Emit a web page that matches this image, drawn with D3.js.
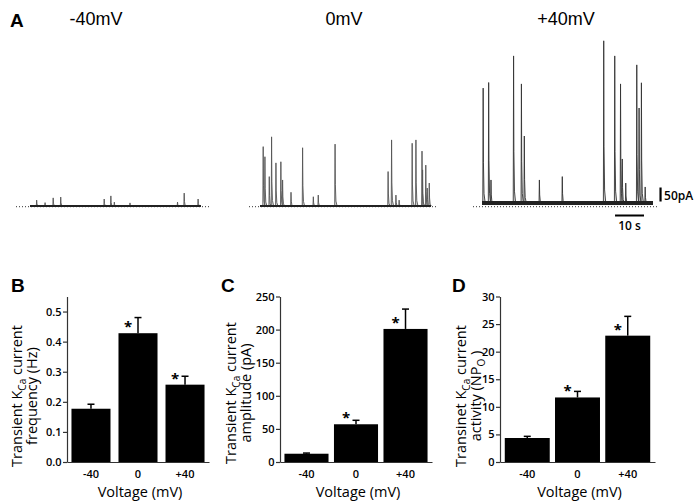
<!DOCTYPE html>
<html>
<head>
<meta charset="utf-8">
<script src="https://cdn.jsdelivr.net/npm/d3@7"></script>
<style>
  body { margin: 0; background: #fff; }
  svg { display: block; }
  .title { font-family: 'Liberation Sans', Arial, sans-serif; font-size: 18px; }
  .letter { font-family: 'Liberation Sans', Arial, sans-serif; font-size: 19px; font-weight: bold; }
  .axis text { font-family: 'Open Sans', sans-serif; font-size: 11px; font-weight: 600; fill: #000; }
  .axis path, .axis line { stroke: #333; stroke-width: 1.2; }
  .label { font-family: 'Open Sans', sans-serif; font-size: 14.5px; fill: #000; }
  .scale-text { font-family: 'Open Sans', sans-serif; font-size: 12px; font-weight: 600; }
</style>
</head>
<body>
<div id="fig"></div>
<script>
// ---- data ----
const voltages = ['-40', '0', '+40']
const traceTitles = ['-40mV', '0mV', '+40mV']

// B: frequency (Hz)
const freqMean = [0.177, 0.428, 0.257]
const freqSem = [0.015, 0.052, 0.028]
// C: amplitude (pA)
const ampMean = [12.5, 57, 201]
const ampSem = [1, 6, 30]
// D: activity (NPo)
const npoMean = [4.35, 11.7, 22.9]
const npoSem = [0.3, 1.1, 3.5]
// asterisks: different from -40 mV
const significant = [false, true, true]

// A: transient events as [time (s), amplitude (pA)]
const spikesNeg40 = [[2.3, 21], [5.2, 12], [8.0, 29], [10.6, 32], [25.6, 25], [27.9, 36],
    [29.1, 14], [34.5, 11], [50.9, 14], [53.2, 46], [58.0, 25]]
const spikesZero = [[1.1, 212], [1.7, 176], [3.2, 105], [4.0, 247], [5.5, 154], [7.2, 158],
    [7.8, 93], [10.7, 49], [14.7, 208], [18.4, 33], [20.1, 39], [25.9, 221], [44.2, 123],
    [45.4, 236], [46.9, 39], [48.0, 21], [52.5, 224], [53.8, 236], [55.9, 196], [56.1, 129],
    [57.2, 146], [57.7, 64], [58.4, 82]]
const spikesPos40 = [[0.4, 410], [2.3, 430], [3.1, 82], [10.9, 525], [13.6, 425], [14.6, 239],
    [19.8, 82], [27.7, 94], [42.0, 579], [45.8, 525], [47.8, 425], [48.4, 157], [49.6, 71],
    [53.4, 493], [54.2, 339], [55.0, 429], [56.3, 57]]
// holding current offset of the baseline (pA)
const baselineShift = [0, 0, 11]
const traceSeconds = 59

const width = 696
const height = 501

const svg = d3.select('#fig')
    .append('svg')
    .attr('width', width)
    .attr('height', height)

// ---------- panel A: current traces ----------
const traceLeft = [30, 260, 482]
const traceWidth = 171
const dotted = [[16, 211], [249, 437], [473, 657]]
const titleX = [96, 344, 566]

// one amplitude scale for the three traces, 50 pA = 14 px
const yT = d3.scaleLinear().domain([0, 50]).range([206, 192])

const allSpikes = [spikesNeg40, spikesZero, spikesPos40]
const traceX = []

allSpikes.forEach((spikes, i) => {
    const x = d3.scaleLinear().domain([0, traceSeconds]).range([traceLeft[i], traceLeft[i] + traceWidth])
    traceX.push(x)
    const g = svg.append('g')
    const shift = baselineShift[i]

    // zero-current reference
    g.append('line')
        .attr('x1', dotted[i][0]).attr('x2', dotted[i][1])
        .attr('y1', yT(0) + 0.7).attr('y2', yT(0) + 0.7)
        .attr('stroke', '#333')
        .attr('stroke-width', 1)
        .attr('stroke-dasharray', '1,2')

    // spikes: fast rise, fast decay back to baseline
    const line = d3.line().x(d => x(d[0])).y(d => yT(d[1]))
    g.selectAll('path.spike')
        .data(spikes)
        .enter()
        .append('path')
        .attr('class', 'spike')
        .attr('d', d => line([
            [d[0] - 0.12, shift],
            [d[0], shift + d[1]],
            [d[0] + 0.1, shift + d[1] * 0.35],
            [d[0] + 0.3, shift + d[1] * 0.08],
            [d[0] + 0.7, shift]
        ]))
        .attr('fill', '#bbb')
        .attr('fill-opacity', 0.5)
        .attr('stroke', i === 2 ? '#333' : '#555')
        .attr('stroke-width', 0.9)

    // baseline (wider noise band at +40 mV)
    g.append('line')
        .attr('x1', x(0)).attr('x2', x(traceSeconds))
        .attr('y1', yT(shift)).attr('y2', yT(shift))
        .attr('stroke', '#222')
        .attr('stroke-width', i === 2 ? 4 : 2)

    svg.append('text')
        .attr('class', 'title')
        .attr('x', titleX[i])
        .attr('y', 25)
        .attr('text-anchor', 'middle')
        .text(traceTitles[i])
})

// scale bars (on the +40 mV time base)
const x3 = traceX[2]
svg.append('line')
    .attr('x1', x3(61.6)).attr('x2', x3(61.6))
    .attr('y1', yT(0) - 4.5).attr('y2', yT(50) - 4.5)
    .attr('stroke', '#000').attr('stroke-width', 2.2)
svg.append('text')
    .attr('class', 'scale-text')
    .attr('x', x3(61.6) + 3.5)
    .attr('y', 200)
    .text('50pA')
svg.append('line')
    .attr('x1', x3(45.9)).attr('x2', x3(55.9))
    .attr('y1', 215.5).attr('y2', 215.5)
    .attr('stroke', '#000').attr('stroke-width', 2)
svg.append('text')
    .attr('class', 'scale-text')
    .attr('x', (x3(45.9) + x3(55.9)) / 2)
    .attr('y', 230)
    .attr('text-anchor', 'middle')
    .text('10 s')

// ---------- panels B, C, D: bar charts ----------
function barPanel(opts) {
    const g = svg.append('g')
    const x = d3.scaleBand()
        .domain(voltages)
        .range([opts.left, opts.right])
        .paddingInner(opts.padInner)
        .paddingOuter(opts.padOuter)
    const y = d3.scaleLinear()
        .domain(opts.domain)
        .range([462, 296.5])

    const rows = voltages.map((v, i) => ({
        v: v,
        mean: opts.mean[i],
        sem: opts.sem[i],
        sig: significant[i]
    }))
    const cx = d => x(d.v) + x.bandwidth() / 2

    const yAxis = d3.axisLeft(y)
        .tickValues(opts.ticks)
        .tickFormat(opts.format)
        .tickSize(4)
        .tickPadding(1.5)
        .tickSizeOuter(0)
    g.append('g')
        .attr('class', 'axis')
        .attr('transform', `translate(${opts.left},0)`)
        .call(yAxis)

    const xAxis = d3.axisBottom(x).tickSize(0).tickPadding(8).tickSizeOuter(0)
    g.append('g')
        .attr('class', 'axis')
        .attr('transform', `translate(0,${y(0)})`)
        .call(xAxis)

    // error bars (mean + SEM, upward only)
    g.selectAll('line.err')
        .data(rows)
        .enter()
        .append('line')
        .attr('x1', cx)
        .attr('x2', cx)
        .attr('y1', d => y(d.mean))
        .attr('y2', d => y(d.mean + d.sem))
        .attr('stroke', '#000')
        .attr('stroke-width', 1.5)
    g.selectAll('line.cap')
        .data(rows)
        .enter()
        .append('line')
        .attr('x1', d => cx(d) - 3.5)
        .attr('x2', d => cx(d) + 3.5)
        .attr('y1', d => y(d.mean + d.sem))
        .attr('y2', d => y(d.mean + d.sem))
        .attr('stroke', '#000')
        .attr('stroke-width', 1.5)

    g.selectAll('rect')
        .data(rows)
        .enter()
        .append('rect')
        .attr('x', d => x(d.v))
        .attr('y', d => y(d.mean))
        .attr('width', x.bandwidth())
        .attr('height', d => y(0) - y(d.mean))
        .attr('fill', '#000')

    g.selectAll('text.star')
        .data(rows.filter(d => d.sig))
        .enter()
        .append('text')
        .attr('class', 'star')
        .attr('x', d => cx(d) - 10)
        .attr('y', d => y(d.mean) - 1)
        .attr('text-anchor', 'middle')
        .style('font-family', "'Open Sans', sans-serif")
        .style('font-weight', 'bold')
        .style('font-size', '15px')
        .text('*')

    // y title, two lines rotated
    const t = g.append('text')
        .attr('class', 'label')
        .attr('transform', `translate(${opts.titleX},${opts.titleY}) rotate(-90)`)
        .attr('text-anchor', 'middle')
    const l1 = t.append('tspan').attr('x', 0).attr('y', 0)
    l1.append('tspan').text(opts.line1a)
    l1.append('tspan').attr('dy', 4).style('font-size', '10px').text('Ca')
    l1.append('tspan').attr('dy', -4).text(' current')
    const l2 = t.append('tspan').attr('x', 0).attr('y', opts.lineGap)
    l2.append('tspan').text(opts.line2a)
    if (opts.line2sub) {
        l2.append('tspan').attr('dy', 4).style('font-size', '10px').text(opts.line2sub)
        l2.append('tspan').attr('dy', -4).text(opts.line2b)
    }

    g.append('text')
        .attr('class', 'label')
        .attr('x', (opts.left + opts.right) / 2 + 2)
        .attr('y', 497)
        .attr('text-anchor', 'middle')
        .text('Voltage (mV)')

    svg.append('text')
        .attr('class', 'letter')
        .attr('x', opts.letterX)
        .attr('y', 292)
        .text(opts.letter)
}

barPanel({
    letter: 'B', letterX: 11,
    left: 67, right: 209, padInner: 0.17, padOuter: 0.095,
    domain: [0, 0.55], ticks: [0, 0.1, 0.2, 0.3, 0.4, 0.5], format: d3.format('.1f'),
    mean: freqMean, sem: freqSem,
    titleX: 22, titleY: 396, lineGap: 15,
    line1a: 'Transient K', line2a: 'frequency (Hz)'
})

barPanel({
    letter: 'C', letterX: 221,
    left: 280, right: 432, padInner: 0.11, padOuter: 0.09,
    domain: [0, 250], ticks: [0, 50, 100, 150, 200, 250], format: d3.format('d'),
    mean: ampMean, sem: ampSem,
    titleX: 236, titleY: 393, lineGap: 15,
    line1a: 'Transient K', line2a: 'amplitude (pA)'
})

barPanel({
    letter: 'D', letterX: 452,
    left: 500, right: 655, padInner: 0.105, padOuter: 0.095,
    domain: [0, 30], ticks: [0, 5, 10, 15, 20, 25, 30], format: d3.format('d'),
    mean: npoMean, sem: npoSem,
    titleX: 466, titleY: 396, lineGap: 15,
    line1a: 'Transinet K', line2a: 'activity (NP', line2sub: 'O', line2b: ' )'
})

svg.append('text')
    .attr('class', 'letter')
    .attr('x', 10)
    .attr('y', 27)
    .text('A')
</script>
</body>
</html>
